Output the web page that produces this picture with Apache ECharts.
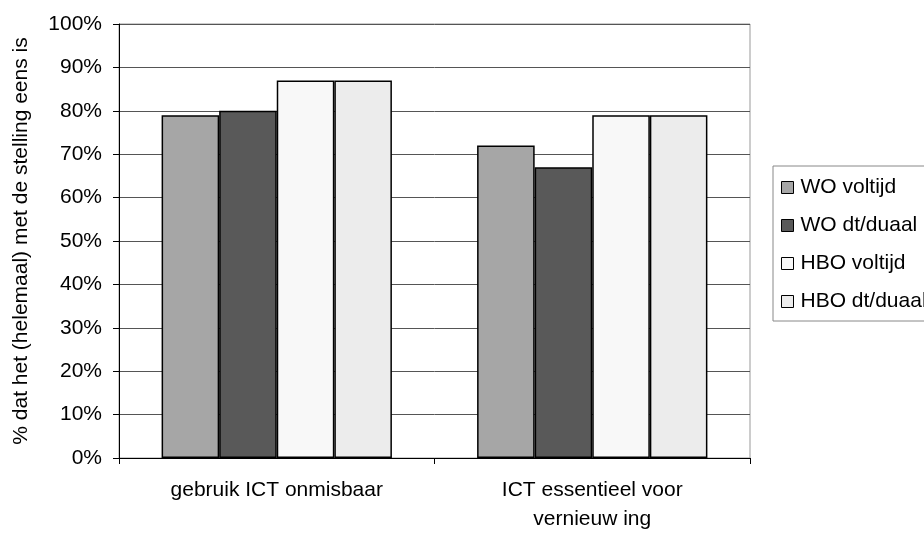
<!DOCTYPE html>
<html>
<head>
<meta charset="utf-8">
<script src="https://cdn.jsdelivr.net/npm/echarts@6/dist/echarts.min.js"></script>
<style>
  html, body { margin: 0; padding: 0; background: #fff; }
  #chart { width: 924px; height: 534px; }
</style>
</head>
<body>
<div id="chart"></div>
<script>
// categorieën en reeksen (percentages)
const categories = ['gebruik ICT onmisbaar', 'ICT essentieel voor\nvernieuw ing']
const seriesNames = ['WO voltijd', 'WO dt/duaal', 'HBO voltijd', 'HBO dt/duaal']
const woVoltijd = [79, 72]
const woDuaal = [80, 67]
const hboVoltijd = [87, 79]
const hboDuaal = [87, 79]
const colors = ['#a6a6a6', '#595959', '#f8f8f8', '#ececec']

const values = [woVoltijd, woDuaal, hboVoltijd, hboDuaal]
const font = 'Liberation Sans, Arial, sans-serif'

const chart = echarts.init(document.getElementById('chart'))
chart.setOption({
  animation: false,
  textStyle: { fontFamily: font, color: '#000' },
  grid: { left: 119, right: 174, top: 24, bottom: 71, show: true, borderColor: '#999', borderWidth: 1 },
  legend: {
    orient: 'vertical',
    left: 773, top: 166,
    itemWidth: 12, itemHeight: 12, itemGap: 17,
    padding: [11, 60, 9, 8],
    borderColor: '#888', borderWidth: 1,
    icon: 'rect',
    itemStyle: { borderColor: '#000', borderWidth: 1 },
    textStyle: { fontSize: 21, lineHeight: 21, fontFamily: font, color: '#000', padding: [0, 0, 0, 2] },
    data: seriesNames
  },
  xAxis: {
    type: 'category',
    data: categories,
    axisLine: { lineStyle: { color: '#000' } },
    axisTick: { show: true, length: 6, lineStyle: { color: '#000' } },
    axisLabel: { fontSize: 21, color: '#000', margin: 18, lineHeight: 29, fontFamily: font }
  },
  yAxis: {
    type: 'value',
    min: 0, max: 100, interval: 10,
    name: '% dat het (helemaal) met de stelling eens is',
    nameLocation: 'middle',
    nameGap: 87,
    nameTextStyle: { fontSize: 21, color: '#000', fontFamily: font },
    axisLine: { show: true, lineStyle: { color: '#000' } },
    axisTick: { show: true, length: 6, lineStyle: { color: '#000' } },
    axisLabel: { fontSize: 21, color: '#000', margin: 17, formatter: '{value}%', fontFamily: font },
    splitLine: { lineStyle: { color: '#555' } }
  },
  series: seriesNames.map((name, i) => ({
    name,
    type: 'bar',
    data: values[i],
    barGap: '0%',
    barCategoryGap: '27%',
    itemStyle: { color: colors[i], borderColor: '#000', borderWidth: 1.5 }
  }))
})
</script>
</body>
</html>
